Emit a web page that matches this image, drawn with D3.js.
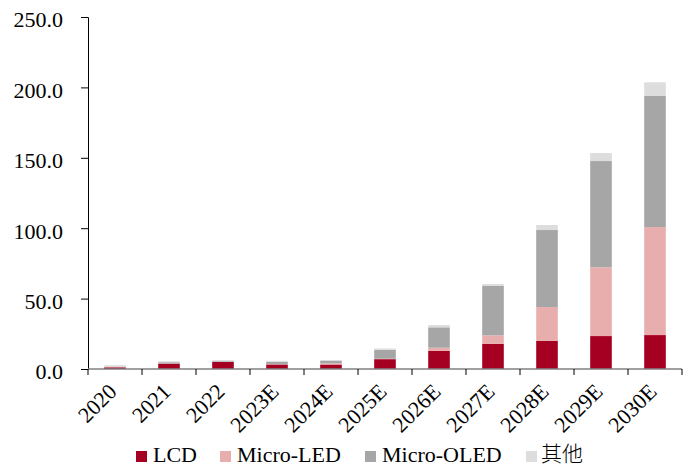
<!DOCTYPE html>
<html>
<head>
<meta charset="utf-8">
<script src="https://cdn.jsdelivr.net/npm/d3@7"></script>
<style>
  body { margin: 0; background: #fff; }
</style>
</head>
<body>
<div id="chart"></div>
<script>
// years and the four series
var years = ["2020", "2021", "2022", "2023E", "2024E", "2025E", "2026E", "2027E", "2028E", "2029E", "2030E"];
var seriesNames = ["LCD", "Micro-LED", "Micro-OLED", "其他"];
var lcd =       [1.2, 3.8, 5.0, 3.2, 3.2, 7.0, 12.8, 17.8, 19.9, 23.4, 24.1];
var microLed =  [0.2, 0.1, 0.1, 0.2, 0.8, 0.3,  2.3,  6.1, 24.1, 48.8, 76.7];
var microOled = [0.3, 0.9, 0.5, 1.8, 1.7, 6.3, 14.5, 35.1, 54.7, 75.5, 93.1];
var others =    [1.0, 0.7, 0.7, 0.6, 0.7, 1.0,  1.6,  1.4,  3.6,  5.7,  9.7];
var yTicks = [0, 50, 100, 150, 200, 250];

var colors = ["#a50021", "#e8aeae", "#a6a6a6", "#dddddd"];
var serif = "'Liberation Serif', 'Times New Roman', serif";
var cjk = "'Noto Sans CJK SC', sans-serif";

var width = 693, height = 468;
var margin = {top: 17, right: 11, bottom: 99, left: 88};

var table = years.map(function(y, i) {
  return {year: y, "LCD": lcd[i], "Micro-LED": microLed[i], "Micro-OLED": microOled[i], "其他": others[i]};
});
var stacked = d3.stack().keys(seriesNames)(table);

var svg = d3.select("#chart").append("svg")
  .attr("width", width)
  .attr("height", height);

var x = d3.scaleBand()
  .domain(years)
  .range([margin.left, width - margin.right])
  .paddingInner(0.6)
  .paddingOuter(0.3);

var y = d3.scaleLinear()
  .domain([0, 250])
  .range([height - margin.bottom, margin.top]);

// bars
svg.append("g").selectAll("g")
  .data(stacked)
  .enter().append("g")
    .attr("fill", function(d, i) { return colors[i]; })
  .selectAll("rect")
  .data(function(d) { return d; })
  .enter().append("rect")
    .attr("x", function(d) { return x(d.data.year); })
    .attr("y", function(d) { return y(d[1]); })
    .attr("height", function(d) { return y(d[0]) - y(d[1]); })
    .attr("width", x.bandwidth());

// y axis
var yAxis = svg.append("g")
  .attr("transform", "translate(" + margin.left + ",0)")
  .call(d3.axisLeft(y).tickValues(yTicks).tickSize(7).tickPadding(18)
    .tickFormat(d3.format(".1f")));
yAxis.select(".domain").attr("stroke", "#000");
yAxis.selectAll("text")
  .attr("fill", "#000")
  .attr("dy", "0.45em")
  .style("font-size", "22px")
  .style("font-family", serif);

// x axis: ticks sit between the categories
var x0 = margin.left, x1 = width - margin.right;
var xg = svg.append("g").attr("transform", "translate(0," + y(0) + ")");
xg.append("line")
  .attr("x1", x0).attr("x2", x1)
  .attr("stroke", "#808080").attr("stroke-width", 1.5);
xg.selectAll(".tick")
  .data(d3.range(years.length + 1))
  .enter().append("line")
    .attr("class", "tick")
    .attr("x1", function(i) { return x0 + i * (x1 - x0) / years.length; })
    .attr("x2", function(i) { return x0 + i * (x1 - x0) / years.length; })
    .attr("y1", 0).attr("y2", 6)
    .attr("stroke", "#000");
xg.selectAll(".lbl")
  .data(years)
  .enter().append("text")
    .attr("class", "lbl")
    .attr("text-anchor", "end")
    .style("font-size", "22px")
    .style("font-family", serif)
    .attr("transform", function(d) {
      return "translate(" + (x(d) + x.bandwidth() / 2 + 3) + ",24) rotate(-45)";
    })
    .text(function(d) { return d; });

// legend
var legendX = [136, 220, 365, 526];
var legend = svg.append("g").selectAll("g")
  .data(seriesNames)
  .enter().append("g")
    .attr("transform", function(d, i) { return "translate(" + legendX[i] + ",451)"; });
legend.append("rect")
  .attr("width", 11).attr("height", 11)
  .attr("fill", function(d, i) { return colors[i]; });
legend.append("text")
  .attr("x", function(d) { return d == "其他" ? 15 : 17; })
  .attr("y", function(d) { return d == "其他" ? 10 : 11; })
  .style("font-family", function(d) { return d == "其他" ? cjk : serif; })
  .style("font-size", function(d) { return d == "其他" ? "21px" : "22px"; })
  .style("font-weight", function(d) { return d == "其他" ? 300 : 400; })
  .text(function(d) { return d; });
</script>
</body>
</html>
